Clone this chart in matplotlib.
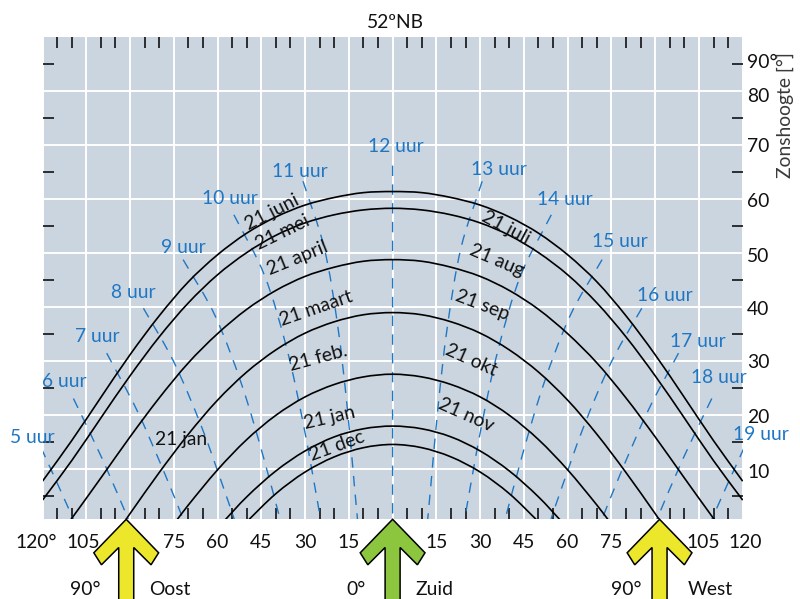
import numpy as np
import matplotlib
matplotlib.use('Agg')
import matplotlib.pyplot as plt
from matplotlib.patches import Polygon, PathPatch
from matplotlib.path import Path

plt.rcParams['font.family'] = ['Lato', 'DejaVu Sans']

# ---------------- data ----------------
title = '52ºNB'
az_grid = [-120, -110, -100, -90, -80, -70, -60, -50, -40, -30, -20, -10, 0,
           10, 20, 30, 40, 50, 60, 70, 80, 90, 100, 110, 120]

juni_alt = [7.8, 15.3, 23.3, 31.2, 38.4, 44.7, 49.7, 53.7, 56.7, 58.9, 60.3, 61.2, 61.4,
            61.2, 60.3, 58.9, 56.7, 53.7, 49.7, 44.7, 38.4, 31.2, 23.3, 15.3, 7.8]
mei_alt = [4.3, 11.6, 19.5, 27.3, 34.5, 40.8, 46.0, 50.1, 53.3, 55.6, 57.1, 58.0, 58.3,
           58.0, 57.1, 55.6, 53.3, 50.1, 46.0, 40.8, 34.5, 27.3, 19.5, 11.6, 4.3]
april_alt = [None, 0.9, 8.4, 16.0, 23.2, 29.7, 35.1, 39.6, 43.1, 45.7, 47.4, 48.5, 48.8,
             48.5, 47.4, 45.7, 43.1, 39.6, 35.1, 29.7, 23.2, 16.0, 8.4, 0.9, None]
maart_alt = [None, None, None, 1.8, 9.4, 16.5, 22.8, 28.0, 32.1, 35.2, 37.3, 38.6, 39.0,
             38.6, 37.3, 35.2, 32.1, 28.0, 22.8, 16.5, 9.4, 1.8, None, None, None]
feb_alt = [None, None, None, None, None, 3.4, 9.9, 15.5, 20.0, 23.4, 25.7, 27.1, 27.6,
           27.1, 25.7, 23.4, 20.0, 15.5, 9.9, 3.4, None, None, None, None, None]
jan_alt = [None, None, None, None, None, None, None, 4.9, 9.7, 13.4, 16.0, 17.5, 18.0,
           17.5, 16.0, 13.4, 9.7, 4.9, None, None, None, None, None, None, None]
dec_alt = [None, None, None, None, None, None, None, 0.3, 5.5, 9.5, 12.3, 14.0, 14.6,
           14.0, 12.3, 9.5, 5.5, 0.3, None, None, None, None, None, None, None]
date_curves = [juni_alt, mei_alt, april_alt, maart_alt, feb_alt, jan_alt, dec_alt]
sunrise_az = [None, None, 111.3, 92.3, 74.8, 58.5, 50.5]   # where each day curve meets the horizon

hours = [5, 6, 7, 8, 9, 10, 11, 12, 13, 14, 15, 16, 17, 18, 19]
hour_az = [
    [-120.5, -114.5, -108.8],
    [-109.4, -99.4, -90.0],
    [-98.0, -87.7, -78.1, -71.2],
    [-85.4, -75.2, -65.5, -57.2, -53.8],
    [-71.8, -61.0, -51.8, -44.4, -38.2],
    [-54.4, -44.0, -36.2, -30.5, -25.7, -24.5],
    [-30.7, -23.5, -18.8, -15.6, -13.1, -11.9],
    [0.0, 0.0],
    [30.7, 23.5, 18.8, 15.6, 13.1, 11.9],
    [54.4, 44.0, 36.2, 30.5, 25.7, 24.5],
    [71.8, 61.0, 51.8, 44.4, 38.2],
    [85.4, 75.2, 65.5, 57.2, 53.8],
    [98.0, 87.7, 78.1, 71.2],
    [109.4, 99.4, 90.0],
    [120.5, 114.5, 108.8],
]
hour_alt = [
    [14.0, 6.9, 0.0],
    [23.1, 11.8, 0.0],
    [31.5, 21.0, 9.2, 0.0],
    [39.8, 30.1, 17.9, 5.4, 0.0],
    [48.8, 38.6, 25.8, 12.5, 0.0],
    [57.1, 46.0, 32.2, 18.1, 3.9, 0.0],
    [63.3, 51.1, 36.5, 21.7, 7.0, 0.0],
    [66.2, 0.0],
    [63.3, 51.1, 36.5, 21.7, 7.0, 0.0],
    [57.1, 46.0, 32.2, 18.1, 3.9, 0.0],
    [48.8, 38.6, 25.8, 12.5, 0.0],
    [39.8, 30.1, 17.9, 5.4, 0.0],
    [31.5, 21.0, 9.2, 0.0],
    [23.1, 11.8, 0.0],
    [14.0, 6.9, 0.0],
]

date_labels = ['21 juni', '21 mei', '21 april', '21 maart', '21 feb.', '21 jan', '21 dec', '21 jan',
               '21 juli', '21 aug', '21 sep', '21 okt', '21 nov']
az_labels = ['120°', '105', '75', '60', '45', '30', '15', '15', '30', '45', '60', '75', '105', '120']
alt_labels = ['90°', '80', '70', '60', '50', '40', '30', '20', '10']
y_title = 'Zonshoogte [°]'
dir_labels = ['90°', 'Oost', '0°', 'Zuid', '90°', 'West']

# ---------------- layout / style ----------------
W, H = 800, 599
BG = '#cbd5df'
BLUE = '#1f77c4'
INK = '#111111'
FS = 13.9

fig = plt.figure(figsize=(W / 100, H / 100), dpi=100)
L, R, T, B = 42.5, 742.7, 37.0, 519.3
ax = fig.add_axes([L / W, 1 - B / H, (R - L) / W, (B - T) / H])
ax.set_xlim(-120, 120)
ax.set_ylim(0.75, 90)
ax.set_facecolor(BG)
for s in ax.spines.values():
    s.set_visible(False)
ax.set_xticks(np.arange(-120, 121, 15))
ax.set_yticks(np.arange(10, 90, 10))
ax.grid(True, color='white', lw=1.4, zorder=0)
ax.set_axisbelow(True)
ax.tick_params(which='major', length=0, labelbottom=False, labelleft=False)
ax.set_xticks([v for v in range(-115, 120, 5) if v % 15], minor=True)
ax.set_yticks(list(range(5, 90, 10)), minor=True)
ax.tick_params(which='minor', direction='in', length=8, width=1.1, color='black',
               top=True, bottom=True, left=True, right=True)


def smooth_path(xs, ys):
    P = np.column_stack([xs, ys]).astype(float)
    D = ax.transData.transform(P)
    seg = np.hypot(*np.diff(D, axis=0).T)
    seg[seg == 0] = 1e-6
    t = np.concatenate([[0.0], np.cumsum(seg)])
    n = len(P)
    m = np.zeros_like(P)
    m[0] = (P[1] - P[0]) / (t[1] - t[0])
    m[-1] = (P[-1] - P[-2]) / (t[-1] - t[-2])
    for i in range(1, n - 1):
        m[i] = (P[i + 1] - P[i - 1]) / (t[i + 1] - t[i - 1])
    verts = [P[0]]
    codes = [Path.MOVETO]
    for i in range(n - 1):
        h = t[i + 1] - t[i]
        verts += [P[i] + m[i] * h / 3, P[i + 1] - m[i + 1] * h / 3, P[i + 1]]
        codes += [Path.CURVE4] * 3
    return Path(verts, codes)


# day curves
for alts, hz in zip(date_curves, sunrise_az):
    xs = [a for a, v in zip(az_grid, alts) if v is not None]
    ys = [v for v in alts if v is not None]
    if hz is not None:
        xs = [-hz] + xs + [hz]
        ys = [0.0] + ys + [0.0]
    ax.add_patch(PathPatch(smooth_path(xs, ys), fill=False, edgecolor='black', lw=1.2, zorder=3))

# hour lines
for xs, ys in zip(hour_az, hour_alt):
    pp = PathPatch(smooth_path(xs, ys), fill=False, edgecolor=BLUE, lw=1.0, zorder=2)
    pp.set_linestyle((0, (7.5, 6)))
    ax.add_patch(pp)

# overlay in pixel space for the annotations
ov = fig.add_axes([0, 0, 1, 1], zorder=5)
ov.set_xlim(0, W)
ov.set_ylim(H, 0)
ov.axis('off')
ov.patch.set_alpha(0)

hour_lab_x = [32.5, 64.5, 97.5, 133.5, 183.5, 229.7, 299.5, 396, 498.5, 565, 620, 665, 697.5, 719, 760.8]
hour_lab_y = [443, 387, 342, 298, 253, 204, 177, 152, 175, 205, 247, 301, 347, 383, 440]
for hr, x, y in zip(hours, hour_lab_x, hour_lab_y):
    ov.text(x, y, f'{hr} uur', color=BLUE, fontsize=FS, ha='center', va='baseline')

date_x = [272, 283, 297, 316, 318, 329, 337, 181, 506, 497, 482, 471, 466]
date_y = [212, 232, 258, 308, 358, 418, 446, 440, 228, 260, 305, 360, 415]
date_rot = [27, 26, 22, 19, 15, 13, 20, 0, -28, -23, -21, -24, -24]
for t, x, y, r in zip(date_labels, date_x, date_y, date_rot):
    ov.text(x, y, t, fontsize=FS, ha='center', va='center', rotation=r,
            rotation_mode='anchor', color=INK)

az_label_pos = [-122.2, -106.1, -75, -60, -45, -30, -15, 15, 30, 45, 60, 75, 106.3, 121.0]
for t, a in zip(az_labels, az_label_pos):
    ov.text(L + (a + 120) / 240 * (R - L), 548, t, fontsize=FS, ha='center', va='baseline', color=INK)

alt_label_base = [68, 102, 152, 207, 262, 315, 368, 423, 478]
for t, y in zip(alt_labels, alt_label_base):
    ov.text(747, y, t, fontsize=FS, ha='left', va='baseline', color=INK)

ov.text(785, 115, y_title, fontsize=FS, rotation=90, ha='center', va='center', color='#3a3a3a')
ov.text(395.5, 28.3, title, fontsize=FS, ha='center', va='baseline', color=INK)

dir_x = [85.5, 149, 356, 415, 626, 688]
dir_ha = ['center', 'left', 'center', 'left', 'center', 'left']
for t, x, h in zip(dir_labels, dir_x, dir_ha):
    ov.text(x, 595, t, fontsize=FS, ha=h, va='baseline', color=INK)

# direction arrows (Oost, Zuid, West)
arrow_az = [-91.3, 0.0, 91.5]
arrow_col = ['#ece72a', '#8cc63f', '#ece72a']
shape = [(0, 0), (-32.4, 33.5), (-24.8, 45.5), (-7.5, 28.2), (-7.5, 90), (7.5, 90), (7.5, 28.2),
         (24.8, 45.5), (32.4, 33.5)]
for a, c in zip(arrow_az, arrow_col):
    tx = L + (a + 120) / 240 * (R - L)
    pts = [(tx + dx, B + dy) for dx, dy in shape]
    ov.add_patch(Polygon(pts, closed=True, facecolor=c, edgecolor='black', lw=1.1, joinstyle='miter'))

fig.savefig('out.png', dpi=100)
